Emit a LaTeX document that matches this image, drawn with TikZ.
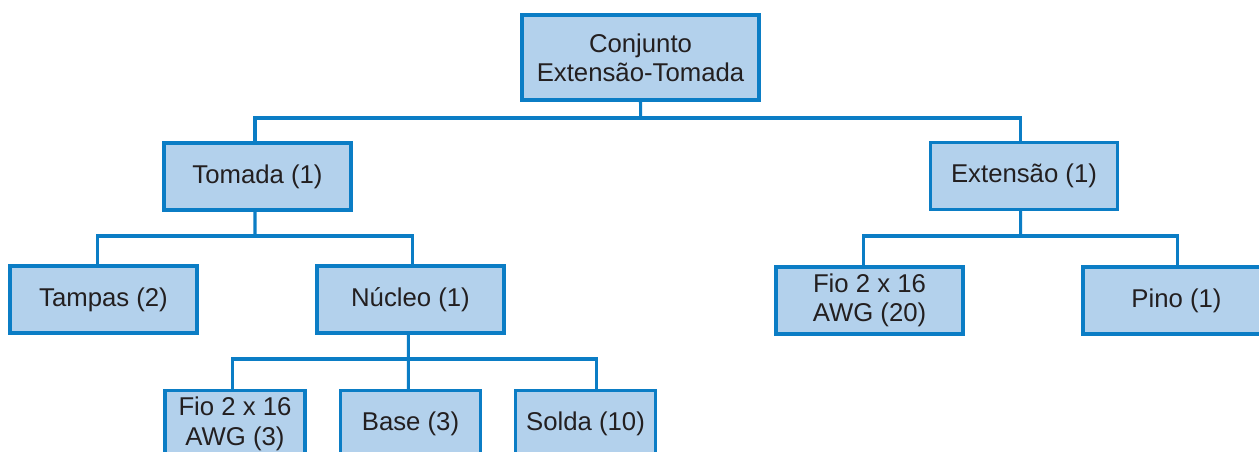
\documentclass[tikz,border=0pt]{standalone}
\usepackage{fontspec}
\setmainfont{Liberation Sans}
\definecolor{boxfill}{HTML}{B3D1EC}
\definecolor{boxline}{HTML}{0B7DC5}
\definecolor{txt}{HTML}{231F20}
\begin{document}
\begin{tikzpicture}[x=0.75pt,y=-0.75pt,
  box/.style={draw=boxline,fill=boxfill,line width=2.3pt,inner sep=0pt,
    text=txt,align=center,minimum width=140.25pt,minimum height=50.25pt,
    font=\fontsize{19.3}{22}\selectfont},
  smallbox/.style={box,minimum width=105pt},
  conn/.style={draw=boxline,line width=2.3pt}]
\useasboundingbox (0,0) rectangle (1259,452);
\clip (0,0) rectangle (1259,452);
\fill[white] (0,0) rectangle (1259,452);
% nodes
\node[box,minimum width=177.75pt,minimum height=63.75pt] (root) at (640.5,57.5) {Conjunto\\Extensão-Tomada};
\node[box] (tomada) at (257.5,176.5) {Tomada (1)};
\node[box] (extensao) at (1024,176) {Extensão (1)};
\node[box] (tampas) at (103.5,299.5) {Tampas (2)};
\node[box] (nucleo) at (410.5,299.5) {Núcleo (1)};
\node[box] (fio20) at (869.5,300.5) {Fio 2 x 16\\AWG (20)};
\node[box] (pino) at (1176.5,300.5) {Pino (1)};
\node[smallbox] (fio3) at (235,424) {Fio 2 x 16\\AWG (3)};
\node[smallbox] (base) at (410.5,424) {Base (3)};
\node[smallbox] (solda) at (585.5,424) {Solda (10)};
% connectors
\coordinate (bus0) at (640.7,118);
\coordinate (bus1) at (255,236);
\coordinate (bus2) at (1020.7,236);
\coordinate (bus3) at (408.3,359);
\draw[conn] (root.south) -- (bus0);
\draw[conn] ([xshift=-1.9pt]tomada.north) |- (bus0) -| ([xshift=-2.5pt]extensao.north);
\draw[conn] ([xshift=-1.9pt]tomada.south) -- (bus1);
\draw[conn] ([xshift=-4.35pt]tampas.north) |- (bus1) -| ([xshift=1.65pt]nucleo.north);
\draw[conn] ([xshift=-2.5pt]extensao.south) -- (bus2);
\draw[conn] ([xshift=-4.65pt]fio20.north) |- (bus2) -| ([xshift=0.9pt]pino.north);
\draw[conn] ([xshift=-1.65pt]nucleo.south) -- (bus3);
\draw[conn] ([xshift=-2pt]fio3.north) |- (bus3) -| ([xshift=8.4pt]solda.north);
\draw[conn] (bus3) -- ([xshift=-1.65pt]base.north);
\end{tikzpicture}
\end{document}
